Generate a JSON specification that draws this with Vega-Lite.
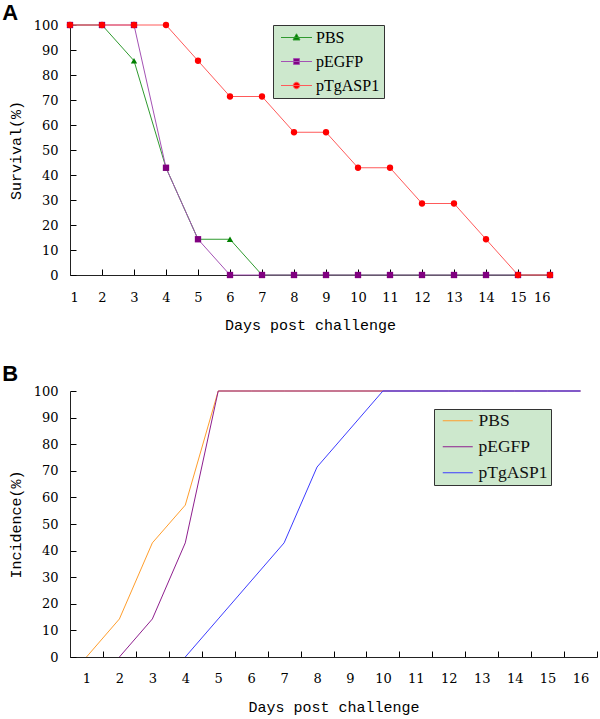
{
  "$schema": "https://vega.github.io/schema/vega-lite/v6.json",
  "background": "white",
  "padding": {"left": 2, "top": 2, "right": 5, "bottom": 5},
  "datasets": {
    "survival": [
      {"day": 1, "group": "PBS", "survival": 100}, {"day": 2, "group": "PBS", "survival": 100}, {"day": 3, "group": "PBS", "survival": 85.7}, {"day": 4, "group": "PBS", "survival": 42.9}, {"day": 5, "group": "PBS", "survival": 14.3}, {"day": 6, "group": "PBS", "survival": 14.3}, {"day": 7, "group": "PBS", "survival": 0}, {"day": 8, "group": "PBS", "survival": 0}, {"day": 9, "group": "PBS", "survival": 0}, {"day": 10, "group": "PBS", "survival": 0}, {"day": 11, "group": "PBS", "survival": 0}, {"day": 12, "group": "PBS", "survival": 0}, {"day": 13, "group": "PBS", "survival": 0}, {"day": 14, "group": "PBS", "survival": 0}, {"day": 15, "group": "PBS", "survival": 0}, {"day": 16, "group": "PBS", "survival": 0},
      {"day": 1, "group": "pEGFP", "survival": 100}, {"day": 2, "group": "pEGFP", "survival": 100}, {"day": 3, "group": "pEGFP", "survival": 100}, {"day": 4, "group": "pEGFP", "survival": 42.9}, {"day": 5, "group": "pEGFP", "survival": 14.3}, {"day": 6, "group": "pEGFP", "survival": 0}, {"day": 7, "group": "pEGFP", "survival": 0}, {"day": 8, "group": "pEGFP", "survival": 0}, {"day": 9, "group": "pEGFP", "survival": 0}, {"day": 10, "group": "pEGFP", "survival": 0}, {"day": 11, "group": "pEGFP", "survival": 0}, {"day": 12, "group": "pEGFP", "survival": 0}, {"day": 13, "group": "pEGFP", "survival": 0}, {"day": 14, "group": "pEGFP", "survival": 0}, {"day": 15, "group": "pEGFP", "survival": 0}, {"day": 16, "group": "pEGFP", "survival": 0},
      {"day": 1, "group": "pTgASP1", "survival": 100}, {"day": 2, "group": "pTgASP1", "survival": 100}, {"day": 3, "group": "pTgASP1", "survival": 100}, {"day": 4, "group": "pTgASP1", "survival": 100}, {"day": 5, "group": "pTgASP1", "survival": 85.7}, {"day": 6, "group": "pTgASP1", "survival": 71.4}, {"day": 7, "group": "pTgASP1", "survival": 71.4}, {"day": 8, "group": "pTgASP1", "survival": 57.1}, {"day": 9, "group": "pTgASP1", "survival": 57.1}, {"day": 10, "group": "pTgASP1", "survival": 42.9}, {"day": 11, "group": "pTgASP1", "survival": 42.9}, {"day": 12, "group": "pTgASP1", "survival": 28.6}, {"day": 13, "group": "pTgASP1", "survival": 28.6}, {"day": 14, "group": "pTgASP1", "survival": 14.3}, {"day": 15, "group": "pTgASP1", "survival": 0}, {"day": 16, "group": "pTgASP1", "survival": 0}
    ],
    "incidence": [
      {"day": 1, "group": "PBS", "incidence": 0}, {"day": 2, "group": "PBS", "incidence": 14.3}, {"day": 3, "group": "PBS", "incidence": 42.9}, {"day": 4, "group": "PBS", "incidence": 57.1}, {"day": 5, "group": "PBS", "incidence": 100}, {"day": 6, "group": "PBS", "incidence": 100}, {"day": 7, "group": "PBS", "incidence": 100}, {"day": 8, "group": "PBS", "incidence": 100}, {"day": 9, "group": "PBS", "incidence": 100}, {"day": 10, "group": "PBS", "incidence": 100}, {"day": 11, "group": "PBS", "incidence": 100}, {"day": 12, "group": "PBS", "incidence": 100}, {"day": 13, "group": "PBS", "incidence": 100}, {"day": 14, "group": "PBS", "incidence": 100}, {"day": 15, "group": "PBS", "incidence": 100}, {"day": 16, "group": "PBS", "incidence": 100},
      {"day": 2, "group": "pEGFP", "incidence": 0}, {"day": 3, "group": "pEGFP", "incidence": 14.3}, {"day": 4, "group": "pEGFP", "incidence": 42.9}, {"day": 5, "group": "pEGFP", "incidence": 100}, {"day": 6, "group": "pEGFP", "incidence": 100}, {"day": 7, "group": "pEGFP", "incidence": 100}, {"day": 8, "group": "pEGFP", "incidence": 100}, {"day": 9, "group": "pEGFP", "incidence": 100}, {"day": 10, "group": "pEGFP", "incidence": 100}, {"day": 11, "group": "pEGFP", "incidence": 100}, {"day": 12, "group": "pEGFP", "incidence": 100}, {"day": 13, "group": "pEGFP", "incidence": 100}, {"day": 14, "group": "pEGFP", "incidence": 100}, {"day": 15, "group": "pEGFP", "incidence": 100}, {"day": 16, "group": "pEGFP", "incidence": 100},
      {"day": 4, "group": "pTgASP1", "incidence": 0}, {"day": 5, "group": "pTgASP1", "incidence": 14.3}, {"day": 6, "group": "pTgASP1", "incidence": 28.6}, {"day": 7, "group": "pTgASP1", "incidence": 42.9}, {"day": 8, "group": "pTgASP1", "incidence": 71.4}, {"day": 9, "group": "pTgASP1", "incidence": 85.7}, {"day": 10, "group": "pTgASP1", "incidence": 100}, {"day": 11, "group": "pTgASP1", "incidence": 100}, {"day": 12, "group": "pTgASP1", "incidence": 100}, {"day": 13, "group": "pTgASP1", "incidence": 100}, {"day": 14, "group": "pTgASP1", "incidence": 100}, {"day": 15, "group": "pTgASP1", "incidence": 100}, {"day": 16, "group": "pTgASP1", "incidence": 100}
    ]
  },
  "spacing": 31,
  "resolve": {"scale": {"x": "independent", "y": "independent", "color": "independent", "stroke": "independent", "fill": "independent", "shape": "independent"}},
  "vconcat": [
    {
      "title": {"text": "A", "anchor": "start", "frame": "bounds", "font": "Liberation Sans", "fontSize": 22, "fontWeight": "bold", "color": "#000", "offset": -6, "dx": -6},
      "width": 480,
      "height": 250,
      "data": {"name": "survival"},
      "encoding": {
        "x": {"field": "day", "type": "quantitative", "scale": {"domain": [1, 16], "nice": false, "zero": false},
              "axis": {"values": [1,2,3,4,5,6,7,8,9,10,11,12,13,14,15,16], "format": "d", "title": "Days post challenge", "labelPadding": 22, "titlePadding": 13}},
        "y": {"field": "survival", "type": "quantitative", "scale": {"domain": [0, 100], "nice": false},
              "axis": {"values": [0,10,20,30,40,50,60,70,80,90,100], "title": "Survival(%)", "labelPadding": 18, "titlePadding": 10}}
      },
      "layer": [
        {
          "mark": {"type": "line", "strokeWidth": 1},
          "encoding": {
            "stroke": {"field": "group", "type": "nominal", "scale": {"domain": ["PBS", "pEGFP", "pTgASP1"], "range": ["#2f9a2f", "#a452b4", "#ff5a5a"]},
                       "legend": {"title": null, "orient": "none", "legendX": 203, "legendY": 0, "fillColor": "#cde8cd", "strokeColor": "#333", "padding": 4, "rowPadding": 7, "symbolSize": 240, "symbolOffset": 11, "labelOffset": 11, "labelFont": "Liberation Serif", "labelFontSize": 16, "labelColor": "#000", "labelLimit": 0, "symbolStrokeWidth": 1}}
          }
        },
        {
          "mark": {"type": "point", "filled": true, "opacity": 1, "size": 40},
          "encoding": {
            "fill": {"field": "group", "type": "nominal", "scale": {"domain": ["PBS", "pEGFP", "pTgASP1"], "range": ["#008000", "#800080", "#ff0000"]}, "legend": null},
            "shape": {"condition": [{"test": "datum.group === 'PBS'", "value": "triangle-up"}, {"test": "datum.group === 'pEGFP'", "value": "square"}], "value": "circle"}
          }
        },
        {
          "mark": {"type": "point", "filled": true, "size": 0},
          "encoding": {
            "fill": {"field": "group", "type": "nominal", "legend": null},
            "shape": {"field": "group", "type": "nominal", "scale": {"domain": ["PBS", "pEGFP", "pTgASP1"], "range": ["M-2,0H2M0,-0.48L0.45,0.32L-0.45,0.32Z", "M-2,0H2M-0.38,-0.38H0.38V0.38H-0.38Z", "M-2,0H2M-0.42,0A0.42,0.42,0,1,0,0.42,0A0.42,0.42,0,1,0,-0.42,0Z"]}, "legend": null}
          }
        }
      ]
    },
    {
      "title": {"text": "B", "anchor": "start", "frame": "bounds", "font": "Liberation Sans", "fontSize": 22, "fontWeight": "bold", "color": "#000", "offset": -1, "dx": -6},
      "width": 527,
      "height": 266,
      "data": {"name": "incidence"},
      "mark": {"type": "line", "strokeWidth": 1},
      "encoding": {
        "x": {"field": "day", "type": "ordinal", "scale": {"type": "band", "paddingInner": 0, "paddingOuter": 0},
              "axis": {"labelAngle": 0, "title": "Days post challenge", "tickBand": "extent", "labelPadding": 21, "titlePadding": 14}},
        "y": {"field": "incidence", "type": "quantitative", "scale": {"domain": [0, 100], "nice": false},
              "axis": {"values": [0,10,20,30,40,50,60,70,80,90,100], "title": "Incidence(%)", "labelPadding": 18, "titlePadding": 10}},
        "color": {"field": "group", "type": "nominal", "scale": {"domain": ["PBS", "pEGFP", "pTgASP1"], "range": ["#ff9e2c", "#8e1f8e", "#3c3cff"]},
                  "legend": {"title": null, "orient": "none", "legendX": 364, "legendY": 18, "fillColor": "#cde8cd", "strokeColor": "#333", "padding": 3, "rowPadding": 7, "symbolType": "M-2,0H2", "symbolSize": 225, "symbolOffset": 12, "labelOffset": 12, "symbolStrokeWidth": 1, "labelFont": "Liberation Serif", "labelFontSize": 17.5, "labelColor": "#111", "labelLimit": 0}}
      }
    }
  ],
  "config": {
    "view": {"stroke": null},
    "axis": {"grid": false, "zindex": 1, "domainColor": "#222", "domainWidth": 1, "ticks": true, "tickSize": -6, "tickColor": "#000", "tickWidth": 1, "labelFont": "DejaVu Serif", "labelFontSize": 13, "labelColor": "#000", "titleFont": "Liberation Mono", "titleFontSize": 15, "titleFontWeight": "normal", "titleColor": "#000"}
  }
}
